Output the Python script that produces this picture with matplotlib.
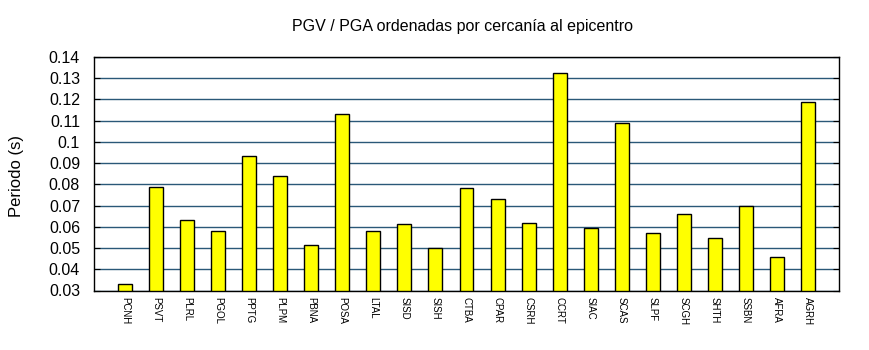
import numpy as np
import matplotlib
matplotlib.use('Agg')
import matplotlib.pyplot as plt

# stations ordered by distance to the epicentre
stations = ['PCNH', 'PSVT', 'PLRL', 'PGOL', 'PPTG', 'PLPM', 'PBNA', 'POSA',
            'LTAL', 'SISD', 'SISH', 'CTBA', 'CPAR', 'CSRH', 'CCRT', 'SIAC',
            'SCAS', 'SLPF', 'SCGH', 'SHTH', 'SSBN', 'AFRA', 'AGRH']
ratio = [0.0329, 0.0787, 0.0631, 0.0579, 0.0933, 0.0839, 0.0513, 0.1131,
         0.0579, 0.0612, 0.0499, 0.0782, 0.0730, 0.0617, 0.1325, 0.0593,
         0.1089, 0.0570, 0.0659, 0.0546, 0.0697, 0.0457, 0.1188]
yticks = [0.03, 0.04, 0.05, 0.06, 0.07, 0.08, 0.09, 0.1, 0.11, 0.12, 0.13, 0.14]
ytick_labels = ['0.03', '0.04', '0.05', '0.06', '0.07', '0.08', '0.09', '0.1',
                '0.11', '0.12', '0.13', '0.14']

plt.rcParams['font.family'] = ['Liberation Sans', 'DejaVu Sans']

fig = plt.figure(figsize=(8.7, 3.5), dpi=100)
ax = fig.add_axes([0.108, 0.17, 0.8564, 0.667])

x = np.arange(len(stations))
ax.bar(x, ratio, width=0.45, bottom=0, color='#ffff00', edgecolor='black',
       linewidth=1.0, zorder=3)

ax.set_ylim(0.03, 0.14)
ax.set_xlim(-1, len(stations))
ax.set_yticks(yticks)
ax.set_yticklabels(ytick_labels, fontsize=11.5)
ax.set_xticks(x)
ax.set_xticklabels(stations, rotation=270, fontsize=7)
ax.tick_params(axis='x', length=0, pad=5)
ax.tick_params(axis='y', direction='in', length=4, right=True, pad=10)

ax.grid(axis='y', color='#2a5878', linewidth=1.0, zorder=0)
for s in ax.spines.values():
    s.set_linewidth(1.0)
    s.set_zorder(4)

# y label and title placed like the original
fig.text(17 / 870, 1 - 176 / 350, 'Periodo (s)', fontsize=12,
         rotation=90, ha='center', va='center')
fig.text(463 / 870, 1 - 27 / 350, 'PGV / PGA ordenadas por cercanía al epicentro',
         fontsize=11.5, ha='center', va='center')

fig.savefig('out.png', dpi=100)
